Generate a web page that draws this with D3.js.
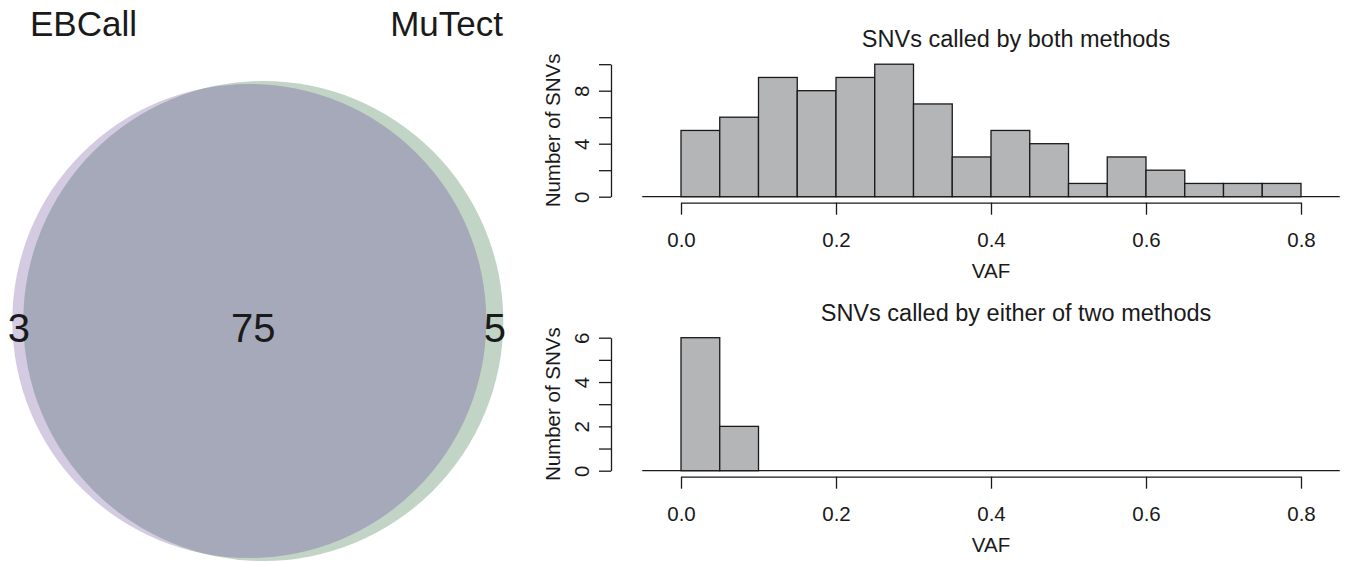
<!DOCTYPE html>
<html>
<head>
<meta charset="utf-8">
<script src="https://cdn.jsdelivr.net/npm/d3@7"></script>
<style>
  body { margin: 0; background: #ffffff; }
  text { font-family: "Liberation Sans", Arial, sans-serif; fill: #1a1a1a; }
  .axis path, .axis line { stroke: #1a1a1a; stroke-width: 1.3; }
</style>
</head>
<body>
<div id="chart"></div>
<script>
// Venn data
var setNames = ["EBCall", "MuTect"];
var setSizes = [78, 80];
var onlyCounts = [3, 5];
var bothCount = 75;

// Histogram data (VAF bins of 0.05)
var binEdges = [0, 0.05, 0.1, 0.15, 0.2, 0.25, 0.3, 0.35, 0.4, 0.45, 0.5, 0.55, 0.6, 0.65, 0.7, 0.75, 0.8];
var bothCounts = [5, 6, 9, 8, 9, 10, 7, 3, 5, 4, 1, 3, 2, 1, 1, 1];
var eitherCounts = [6, 2, 0, 0, 0, 0, 0, 0, 0, 0, 0, 0, 0, 0, 0, 0];
var xTicks = [0, 0.2, 0.4, 0.6, 0.8];
var titles = ["SNVs called by both methods", "SNVs called by either of two methods"];

var svgWidth = 1346;
var svgHeight = 563;

var svg = d3.select("#chart")
  .append("svg")
  .attr("width", svgWidth)
  .attr("height", svgHeight);

// ---- Venn diagram ----
var venn = { cx: 256.3, cy: 321, gap: 14 };
var colors = ["#d4cbe2", "#c1d4c5"];
var overlapColor = "#a6a9b9";

var rScale = d3.scaleSqrt()
  .domain([0, 80])
  .range([0, 240]);

var circles = setSizes.map(function(s, i) {
  return {
    name: setNames[i],
    r: rScale(s),
    cx: venn.cx + (i === 0 ? -1 : 1) * venn.gap / 2,
    cy: venn.cy
  };
});

var vennGroup = svg.append("g");

vennGroup.selectAll("circle.set")
  .data(circles)
  .enter()
  .append("circle")
  .attr("class", "set")
  .attr("cx", d => d.cx)
  .attr("cy", d => d.cy)
  .attr("r", d => d.r)
  .attr("fill", (d, i) => colors[i]);

svg.append("clipPath")
  .attr("id", "clipA")
  .append("circle")
  .attr("cx", circles[0].cx)
  .attr("cy", circles[0].cy)
  .attr("r", circles[0].r);

vennGroup.append("circle")
  .attr("cx", circles[1].cx)
  .attr("cy", circles[1].cy)
  .attr("r", circles[1].r)
  .attr("clip-path", "url(#clipA)")
  .attr("fill", overlapColor);

// set names
vennGroup.append("text")
  .attr("x", 30)
  .attr("y", 35.7)
  .attr("font-size", "35px")
  .text(setNames[0]);

vennGroup.append("text")
  .attr("x", 503)
  .attr("y", 35.7)
  .attr("text-anchor", "end")
  .attr("font-size", "35px")
  .text(setNames[1]);

// counts
var countLabels = [
  { v: onlyCounts[0], x: (circles[0].cx - circles[0].r + circles[1].cx - circles[1].r) / 2 + 1 },
  { v: bothCount, x: venn.cx - 3 },
  { v: onlyCounts[1], x: (circles[0].cx + circles[0].r + circles[1].cx + circles[1].r) / 2 }
];

vennGroup.selectAll("text.count")
  .data(countLabels)
  .enter()
  .append("text")
  .attr("class", "count")
  .attr("x", d => d.x)
  .attr("y", 342)
  .attr("text-anchor", "middle")
  .attr("font-size", "40px")
  .text(d => d.v);

// ---- Histograms ----
var xScale = d3.scaleLinear()
  .domain([0, 0.8])
  .range([681, 1301]);

var panels = [
  { counts: bothCounts, title: titles[0], yMax: 10, yTop: 64.2, yBase: 196.7,
    yTicks: [0, 2, 4, 6, 8, 10], yLabels: [0, 4, 8] },
  { counts: eitherCounts, title: titles[1], yMax: 6, yTop: 337.7, yBase: 470.7,
    yTicks: [0, 1, 2, 3, 4, 5, 6], yLabels: [0, 2, 4, 6] }
];

panels.forEach(function(p) {
  var yScale = d3.scaleLinear()
    .domain([0, p.yMax])
    .range([p.yBase, p.yTop]);

  var g = svg.append("g");

  var bins = p.counts.map(function(c, i) {
    return { x0: binEdges[i], x1: binEdges[i + 1], n: c };
  });

  // baseline across plot region
  g.append("line")
    .attr("x1", xScale(-0.05))
    .attr("x2", xScale(0.85))
    .attr("y1", yScale(0))
    .attr("y2", yScale(0))
    .attr("stroke", "#1a1a1a")
    .attr("stroke-width", 1.3);

  g.selectAll("rect")
    .data(bins)
    .enter()
    .append("rect")
    .attr("x", d => xScale(d.x0))
    .attr("width", d => xScale(d.x1) - xScale(d.x0))
    .attr("y", d => yScale(d.n))
    .attr("height", d => yScale(0) - yScale(d.n))
    .attr("fill", "#b4b5b7")
    .attr("stroke", "#1a1a1a")
    .attr("stroke-width", 1.3);

  // x axis
  var xAxis = g.append("g")
    .attr("class", "axis")
    .attr("transform", `translate(0, ${p.yBase + 6})`)
    .call(d3.axisBottom(xScale)
      .tickValues(xTicks)
      .tickFormat(d3.format(".1f"))
      .tickSize(12)
      .tickSizeOuter(0)
      .tickPadding(18));

  xAxis.selectAll("text")
    .attr("font-size", "20.5px")
    .attr("font-family", "Liberation Sans, Arial, sans-serif")
    .attr("fill", "#1a1a1a");

  // y axis
  var yAxis = g.append("g")
    .attr("class", "axis")
    .attr("transform", "translate(611, 0)")
    .call(d3.axisLeft(yScale)
      .tickValues(p.yTicks)
      .tickFormat(d => p.yLabels.indexOf(d) >= 0 ? d : "")
      .tickSize(12)
      .tickSizeOuter(0));

  yAxis.selectAll("text")
    .attr("transform", "rotate(-90)")
    .attr("x", 0)
    .attr("y", -22)
    .attr("dy", 0)
    .attr("text-anchor", "middle")
    .attr("font-size", "20.5px")
    .attr("font-family", "Liberation Sans, Arial, sans-serif")
    .attr("fill", "#1a1a1a");

  // titles and axis labels
  g.append("text")
    .attr("x", 1016)
    .attr("y", p.yTop - 17)
    .attr("text-anchor", "middle")
    .attr("font-size", "23.5px")
    .text(p.title);

  g.append("text")
    .attr("x", 991)
    .attr("y", p.yBase + 81)
    .attr("text-anchor", "middle")
    .attr("font-size", "20.5px")
    .text("VAF");

  g.append("text")
    .attr("transform", `translate(560, ${(p.yTop + p.yBase) / 2}) rotate(-90)`)
    .attr("text-anchor", "middle")
    .attr("font-size", "20.5px")
    .text("Number of SNVs");
});
</script>
</body>
</html>
